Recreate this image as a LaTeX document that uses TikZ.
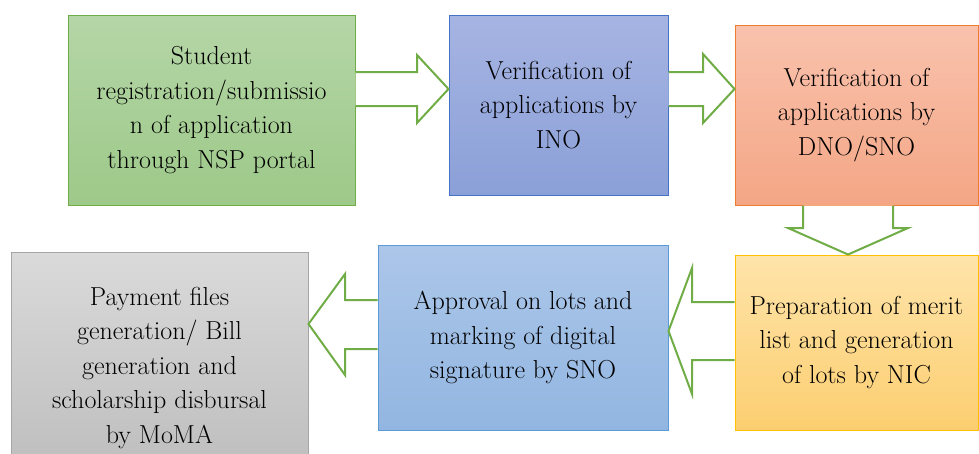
\documentclass[tikz,border=0pt]{standalone}
\begin{document}
\begin{tikzpicture}[x=1pt,y=-1pt,
  box/.style={rectangle, draw, line width=1pt, inner sep=2pt, align=center,
    font=\fontsize{26}{34.5}\selectfont, text=black},
  arr/.style={draw=arrgreen, line width=2pt, fill=white, line join=miter}]
\definecolor{arrgreen}{HTML}{70AD47}
\useasboundingbox (0,0) rectangle (979,453);
\node[box, draw=arrgreen, top color={rgb,255:red,181;green,214;blue,167}, bottom color={rgb,255:red,157;green,201;blue,137},
  minimum width=287pt, minimum height=190pt] (g) at (211.5,110)
  {Student\\registration/submissio\\n of application\\through NSP portal};
\node[box, draw={rgb,255:red,68;green,114;blue,196}, top color={rgb,255:red,166;green,180;blue,226}, bottom color={rgb,255:red,139;green,160;blue,216},
  minimum width=219pt, minimum height=180pt] (b) at (558.5,105)
  {Verification of\\applications by\\INO};
\node[box, draw={rgb,255:red,237;green,125;blue,49}, top color={rgb,255:red,249;green,194;blue,173}, bottom color={rgb,255:red,244;green,166;blue,133},
  minimum width=243pt, minimum height=180pt] (s) at (856.5,115)
  {Verification of\\applications by\\DNO/SNO};
\node[box, draw={rgb,255:red,255;green,192;blue,0}, top color={rgb,255:red,254;green,228;blue,170}, bottom color={rgb,255:red,252;green,206;blue,112},
  minimum width=243pt, minimum height=175pt] (y) at (856.5,342.5)
  {Preparation of merit\\list and generation\\of lots by NIC};
\node[box, draw={rgb,255:red,91;green,155;blue,213}, top color={rgb,255:red,172;green,198;blue,233}, bottom color={rgb,255:red,146;green,182;blue,225},
  minimum width=290pt, minimum height=185pt] (l) at (523,337.5)
  {Approval on lots and\\marking of digital\\signature by SNO};
\node[box, draw={rgb,255:red,165;green,165;blue,165}, top color={rgb,255:red,218;green,218;blue,218}, bottom color={rgb,255:red,188;green,188;blue,188},
  minimum width=297pt, minimum height=232pt] (p) at (159.5,368)
  {Payment files\\generation/ Bill\\generation and\\scholarship disbursal\\by MoMA};
% arrow g -> b
\draw[arr] (g.east |- 0,72) -- (417,72) -- (417,55) -- (b.west |- 0,89) -- (417,123) -- (417,106) -- (g.east |- 0,106);
% arrow b -> s
\draw[arr] (b.east |- 0,72) -- (703,72) -- (703,54) -- (s.west |- 0,89) -- (703,123) -- (703,106) -- (b.east |- 0,106);
% arrow s -> y
\draw[arr] (s.south -| 803,0) -- (803,228) -- (788,228) -- (y.north -| 848,0) -- (908,228) -- (893,228) -- (s.south -| 893,0);
% arrow y -> l
\draw[arr] (y.west |- 0,302) -- (692,302) -- (692,268) -- (l.east |- 0,331) -- (692,394) -- (692,360) -- (y.west |- 0,360);
% arrow l -> p
\draw[arr] (l.west |- 0,300) -- (345,300) -- (345,274) -- (p.east |- 0,324) -- (345,375) -- (345,349) -- (l.west |- 0,349);
\end{tikzpicture}
\end{document}
